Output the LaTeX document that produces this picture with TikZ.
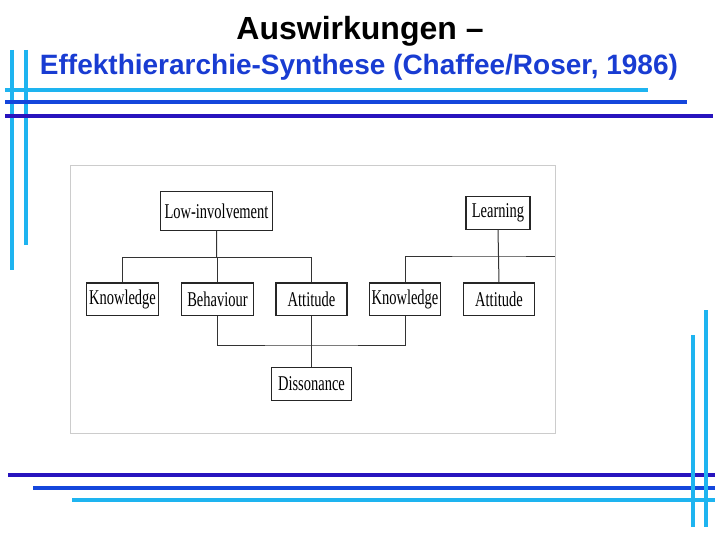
\documentclass[tikz,border=0pt]{standalone}
\usepackage{fontspec}
\setmainfont{Liberation Serif}
\setsansfont{Liberation Sans}
\definecolor{lightcyan}{RGB}{30,180,240}
\definecolor{midblue}{RGB}{20,70,220}
\definecolor{darkblue}{RGB}{40,20,190}
\definecolor{titleblue}{RGB}{25,60,210}
\newcommand{\tallfont}{\fontsize{14.5}{17}\selectfont}
\newcommand{\talltext}[1]{\scalebox{1}[1.45]{\tallfont #1}}
\tikzset{
  box/.style={draw=black!85, line width=1.1pt, fill=white, inner sep=0pt,
    minimum height=32.7pt},
  tree/.style={draw=black!80, line width=1pt},
  bar/.style={line width=4.5pt}
}
\begin{document}
\begin{tikzpicture}[x=1pt,y=1pt,yscale=-1]
\useasboundingbox (0,0) rectangle (720,540);

% Title
\node (title) at (360,31) {\sffamily\bfseries\fontsize{32}{35}\selectfont Auswirkungen --};
\node[text=titleblue] (subtitle) at (359,67) {\sffamily\bfseries\fontsize{28}{31}\selectfont Effekthierarchie-Synthese (Chaffee/Roser, 1986)};

%Lines top left
\draw[bar, lightcyan] (12,50) -- (12,270);
\draw[bar, lightcyan] (26,50) -- (26,245);
\draw[bar, lightcyan] (5,90) -- (648,90);
\draw[bar, midblue] (5,102) -- (687,102);
\draw[bar, darkblue] (5,116) -- (713,116);

%Lines bottom right
\draw[bar, darkblue] (8,475) -- (715,475);
\draw[bar, midblue] (33,488) -- (715,488);
\draw[bar, lightcyan] (72,500) -- (715,500);
\draw[bar, lightcyan] (693,335) -- (693,527);
\draw[bar, lightcyan] (706,310) -- (706,527);

%Picture frame
\draw[black!20, line width=0.8pt] (70,165) rectangle (555,433);

% Nodes
\node[box, minimum width=111.6pt, minimum height=38.3pt] (low) at (216.5,211) {\talltext{Low-involvement}};
\node[box, minimum width=64pt, minimum height=32.3pt] (learn) at (498,213) {\talltext{Learning}};
\node[box, minimum width=71.6pt] (know1) at (122.5,299.3) {\talltext{Knowledge}};
\node[box, minimum width=71.6pt] (beh) at (217.5,299.3) {\talltext{Behaviour}};
\node[box, minimum width=71pt] (att1) at (311.5,299.3) {\talltext{Attitude}};
\node[box, minimum width=71.4pt] (know2) at (405,299.3) {\talltext{Knowledge}};
\node[box, minimum width=71.7pt] (att2) at (499,299.3) {\talltext{Attitude}};
\node[box, minimum width=80pt] (diss) at (311.5,383.7) {\talltext{Dissonance}};

% Connectors
\coordinate (lowbus) at (216.7,257.3);
\coordinate (learnbus) at (498,256);
\coordinate (cutend) at (555,256);
\coordinate (dissbus) at (311.5,345);
\draw[tree] (low.south) -- (lowbus);
\draw[tree] (know1.north) |- (lowbus) -| (att1.north);
\draw[tree] (beh.north) -- (beh.north |- lowbus);
\draw[tree] (learn.south) -- (att2.north);
\draw[tree] (know2.north) |- (learnbus) -- (cutend);
\draw[tree] (beh.south) |- (dissbus) -| (know2.south);
\draw[tree] (att1.south) -- (diss.north);

\end{tikzpicture}
\end{document}
